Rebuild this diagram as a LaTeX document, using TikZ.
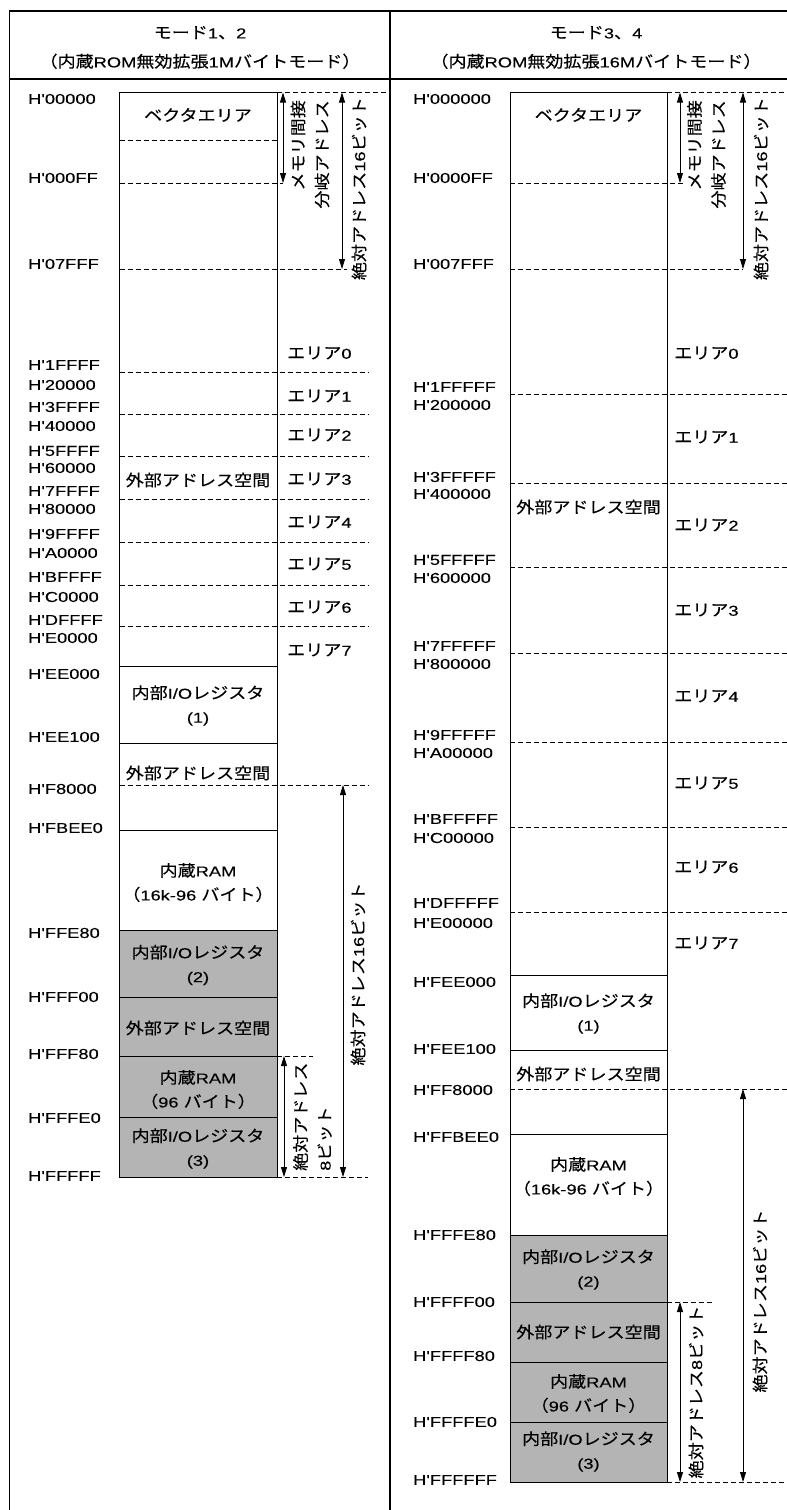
\documentclass[tikz,border=0pt]{standalone}
\usepackage{fontspec}
\newfontfamily\lat{Liberation Sans}[FakeStretch=1.27, FakeBold=0.15]
\newfontfamily\jp{Noto Sans CJK JP}[Scale=1.11, FakeStretch=1.13, FakeBold=0.25]
\newcommand\J[1]{{\jp #1}}
\usetikzlibrary{arrows.meta}
\definecolor{memgray}{RGB}{180,180,180}
\tikzset{
  addr/.style={anchor=west, inner sep=0pt},
  area/.style={anchor=west, inner sep=0pt},
  btxt/.style={align=center, inner sep=0pt},
  htxt/.style={align=center, inner sep=0pt, font=\lat\fontsize{14.4pt}{29pt}\selectfont},
  vtxt/.style={rotate=90, inner sep=0pt},
  dline/.style={dash pattern=on 5pt off 3pt, line width=0.8pt},
  sline/.style={line width=1pt},
  frameline/.style={line width=1.3pt},
  dimarrow/.style={line width=0.8pt, {Triangle[length=10pt,width=6pt]}-{Triangle[length=10pt,width=6pt]}},
}
\begin{document}
\begin{tikzpicture}[x=1pt, y=-1pt, font=\lat\fontsize{14.4pt}{24pt}\selectfont]
\useasboundingbox (0,0) rectangle (787,1510);
\clip (0,0) rectangle (787,1510);
% frame
\draw[frameline] (9.5,11) rectangle (802,1530);
\draw[frameline] (9.5,79) -- (802,79);
\draw[frameline] (390,11) -- (390,1530);
% headers
\node[htxt] (hl) at (200,47.5) {\J{モード}1\J{、}2\\\J{（内蔵}ROM\J{無効拡張}1M\J{バイトモード）}};
\node[htxt] (hr) at (596,47.5) {\J{モード}3\J{、}4\\\J{（内蔵}ROM\J{無効拡張}16M\J{バイトモード）}};

% ================= LEFT COLUMN =================
\fill[memgray] (119.5,930) rectangle (277,1177);
\draw[dline] (119.5,140) -- (277,140);
\draw[dline] (119.5,183) -- (283,183);
\draw[dline] (119.5,269) -- (347,269);
\foreach \y in {372,414,456,499,542,585,626,785} \draw[dline] (119.5,\y) -- (368,\y);
\draw[dline] (277,92.5) -- (388,92.5);
\draw[dline] (277,1056) -- (313,1056);
\draw[dline] (277,1177) -- (368,1177);
\draw[sline] (119.5,92.5) rectangle (277,1177);
\foreach \y in {666,743,830,930,997,1056,1117} \draw[sline] (119.5,\y) -- (277,\y);

\foreach \t/\y [count=\i] in {H'00000/99,H'000FF/178,H'07FFF/264,H'1FFFF/365,H'20000/385,H'3FFFF/407,H'40000/426,H'5FFFF/451,H'60000/468,H'7FFFF/491,H'80000/509,H'9FFFF/534,H'A0000/553,H'BFFFF/577,H'C0000/597,H'DFFFF/620,H'E0000/638,H'EE000/674,H'EE100/737,H'F8000/789,H'FBEE0/828,H'FFE80/933,H'FFF00/997,H'FFF80/1054,H'FFFE0/1118,H'FFFFF/1176}
  \node[addr] (la\i) at (28,\y) {\t};
\foreach \n/\y in {0/353,1/396,2/435,3/479,4/522,5/564,6/607,7/650}
  \node[area] (lar\n) at (287,\y) {\J{エリア}\n};

\node[btxt] (lb1) at (198,115) {\J{ベクタエリア}};
\node[btxt] (lb2) at (198,480) {\J{外部アドレス空間}};
\node[btxt] (lb3) at (198,705.5) {\J{内部}I/O\J{レジスタ}\\(1)};
\node[btxt] (lb4) at (198,773) {\J{外部アドレス空間}};
\node[btxt] (lb5) at (198,882.5) {\J{内蔵}RAM\\\J{（}16k-96 \J{バイト）}};
\node[btxt] (lb6) at (198,965) {\J{内部}I/O\J{レジスタ}\\(2)};
\node[btxt] (lb7) at (198,1028) {\J{外部アドレス空間}};
\node[btxt] (lb8) at (198,1089.5) {\J{内蔵}RAM\\\J{（}96 \J{バイト）}};
\node[btxt] (lb9) at (198,1148.5) {\J{内部}I/O\J{レジスタ}\\(3)};

\coordinate (lA1t) at (283,92.5); \coordinate (lA1b) at (283,183);
\coordinate (lA2t) at (342,92.5); \coordinate (lA2b) at (342,269);
\coordinate (lA3t) at (343,785);  \coordinate (lA3b) at (343,1177);
\coordinate (lA4t) at (284,1056); \coordinate (lA4b) at (284,1177);
\draw[dimarrow] (lA1t) -- (lA1b);
\draw[dimarrow] (lA2t) -- (lA2b);
\draw[dimarrow] (lA3t) -- (lA3b);
\draw[dimarrow] (lA4t) -- (lA4b);
\node[vtxt, align=right, anchor=east] (lv1) at (310,100) {\J{メモリ間接}\\\J{分岐アドレス}};
\node[vtxt, anchor=east] (lv2) at (359,97) {\J{絶対アドレス}16\J{ビット}};
\node[vtxt] (lv3) at (358,974) {\J{絶対アドレス}16\J{ビット}};
\node[vtxt, align=left, anchor=west] (lv4) at (312.5,1171) {\J{絶対アドレス}\\8\J{ビット}};

% ================= RIGHT COLUMN =================
\fill[memgray] (510,1235) rectangle (667,1482);
\draw[dline] (510,183) -- (683,183);
\draw[dline] (510,269) -- (743,269);
\foreach \y in {394,483,567,653,742,827,912,1089} \draw[dline] (510,\y) -- (787,\y);
\draw[dline] (667,92.5) -- (787,92.5);
\draw[dline] (667,1302) -- (713,1302);
\draw[dline] (667,1482) -- (787,1482);
\draw[sline] (510,92.5) rectangle (667,1482);
\foreach \y in {975,1050,1134,1235,1302,1362,1422} \draw[sline] (510,\y) -- (667,\y);

\foreach \t/\y [count=\i] in {H'000000/99,H'0000FF/178,H'007FFF/264,H'1FFFFF/387,H'200000/405,H'3FFFFF/477,H'400000/494,H'5FFFFF/560,H'600000/578,H'7FFFFF/646,H'800000/664,H'9FFFFF/735,H'A00000/753,H'BFFFFF/819,H'C00000/838,H'DFFFFF/903,H'E00000/923,H'FEE000/982,H'FEE100/1049,H'FF8000/1090,H'FFBEE0/1137,H'FFFE80/1235,H'FFFF00/1302,H'FFFF80/1356,H'FFFFE0/1422,H'FFFFFF/1480}
  \node[addr] (ra\i) at (413,\y) {\t};
\foreach \n/\y in {0/353,1/437,2/525,3/610,4/696,5/783,6/867,7/943}
  \node[area] (rar\n) at (674,\y) {\J{エリア}\n};

\node[btxt] (rb1) at (588.5,115) {\J{ベクタエリア}};
\node[btxt] (rb2) at (588.5,507) {\J{外部アドレス空間}};
\node[btxt] (rb3) at (588.5,1013.5) {\J{内部}I/O\J{レジスタ}\\(1)};
\node[btxt] (rb4) at (588.5,1074) {\J{外部アドレス空間}};
\node[btxt] (rb5) at (588.5,1176.5) {\J{内蔵}RAM\\\J{（}16k-96 \J{バイト）}};
\node[btxt] (rb6) at (588.5,1269.5) {\J{内部}I/O\J{レジスタ}\\(2)};
\node[btxt] (rb7) at (588.5,1332) {\J{外部アドレス空間}};
\node[btxt] (rb8) at (588.5,1393.5) {\J{内蔵}RAM\\\J{（}96 \J{バイト）}};
\node[btxt] (rb9) at (588.5,1451.5) {\J{内部}I/O\J{レジスタ}\\(3)};

\coordinate (rA1t) at (680,92.5); \coordinate (rA1b) at (680,183);
\coordinate (rA2t) at (743,92.5); \coordinate (rA2b) at (743,269);
\coordinate (rA3t) at (743,1089); \coordinate (rA3b) at (743,1482);
\coordinate (rA4t) at (680,1302); \coordinate (rA4b) at (680,1482);
\draw[dimarrow] (rA1t) -- (rA1b);
\draw[dimarrow] (rA2t) -- (rA2b);
\draw[dimarrow] (rA3t) -- (rA3b);
\draw[dimarrow] (rA4t) -- (rA4b);
\node[vtxt, align=right, anchor=east] (rv1) at (706.5,100) {\J{メモリ間接}\\\J{分岐アドレス}};
\node[vtxt, anchor=east] (rv2) at (761,97) {\J{絶対アドレス}16\J{ビット}};
\node[vtxt] (rv3) at (760,1301) {\J{絶対アドレス}16\J{ビット}};
\node[vtxt] (rv4) at (696,1392) {\J{絶対アドレス}8\J{ビット}};
\end{tikzpicture}
\end{document}
